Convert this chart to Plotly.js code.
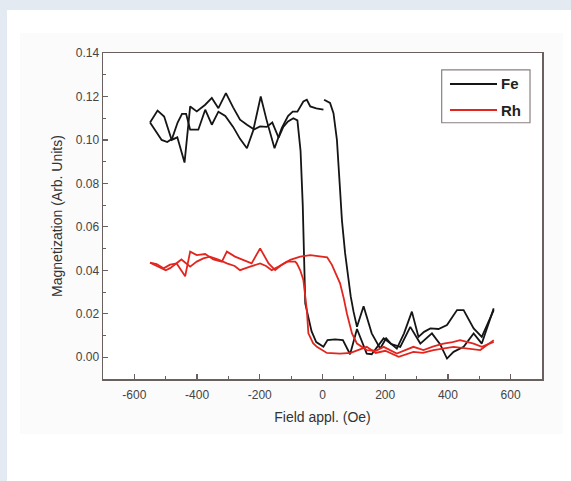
<!DOCTYPE html>
<html>
<head>
<meta charset="utf-8">
<script src="https://cdn.plot.ly/plotly-3.0.1.min.js"></script>
<style>
  html, body { margin: 0; padding: 0; width: 571px; height: 481px; overflow: hidden; background: #e4eaf2; }
  #panel { position: absolute; left: 7px; top: 10px; width: 564px; height: 471px; background: #ffffff; }
  #sheet { position: absolute; left: 20px; top: 33px; width: 543px; height: 401px; background: #fbfbfb; }
  #chart { position: absolute; left: 0; top: 0; width: 571px; height: 481px; }
</style>
</head>
<body>
<div id="panel"></div>
<div id="sheet"></div>
<div id="chart"></div>
<script>
// Fe, increasing-field branch (switches near +60 Oe); null marks the small break near 0 Oe
const feUpX = [-550,-526,-505,-481,-463,-440,-422,-401,-374,-353,-332,-308,-285,-263,-241,-220,-197,-178,-153,-130,-110,-95,-80,-61,-50,-39,-20,3,null,5,24,35,46,56,62,72,80,90,99,110,131,157,184,203,218,237,260,285,306,324,344,370,397,429,450,482,508,546];
const feUpY = [0.108,0.1135,0.1108,0.100,0.1012,0.0896,0.1154,0.1131,0.1162,0.1193,0.1146,0.1215,0.115,0.1093,0.107,0.105,0.120,0.109,0.0962,0.1054,0.111,0.113,0.113,0.1177,0.1185,0.1154,0.1145,0.1139,null,0.1185,0.117,0.1123,0.100,0.077,0.063,0.048,0.038,0.028,0.021,0.014,0.0235,0.011,0.004,0.0087,0.0063,0.004,0.011,0.021,0.0094,0.0117,0.0133,0.013,0.0148,0.0217,0.0217,0.0133,0.0094,0.0217];

// Fe, decreasing-field branch (switches near -60 Oe)
const feDownX = [-550,-513,-495,-480,-462,-448,-435,-422,-396,-374,-353,-332,-310,-285,-263,-241,-220,-199,-178,-160,-140,-125,-110,-93,-80,-70,-63,-58,-55,-49,-35,-20,3,16,40,65,88,110,141,157,195,220,248,280,312,349,375,397,418,450,482,508,546];
const feDownY = [0.108,0.100,0.099,0.1005,0.108,0.112,0.112,0.1047,0.1047,0.1139,0.107,0.113,0.111,0.106,0.1005,0.0962,0.1047,0.1062,0.106,0.108,0.101,0.106,0.1085,0.110,0.109,0.095,0.070,0.045,0.0248,0.0209,0.012,0.007,0.0048,0.0079,0.0082,0.0079,0.0014,0.013,0.0017,0.0014,0.0087,0.006,0.0048,0.014,0.0063,0.011,0.006,-0.0006,0.0025,0.0048,0.011,0.0063,0.0225];

// Rh, increasing-field branch (switches near +70 Oe)
const rhUpX = [-550,-529,-507,-486,-465,-438,-422,-401,-374,-348,-321,-305,-279,-252,-226,-199,-172,-151,-130,-103,-71,-39,-2,15,30,45,56,68,78,94,110,141,170,195,237,290,322,354,386,415,439,482,508,546];
const rhUpY = [0.0435,0.0429,0.0409,0.0426,0.0432,0.0373,0.0486,0.047,0.0475,0.045,0.044,0.0486,0.0463,0.0448,0.0432,0.0501,0.0432,0.0401,0.0425,0.0448,0.0463,0.047,0.0463,0.046,0.0425,0.038,0.034,0.027,0.020,0.011,0.0063,0.0033,0.003,0.0048,0.0017,0.0048,0.0033,0.005,0.0063,0.007,0.0079,0.0063,0.0048,0.0071];

// Rh, decreasing-field branch (switches near -55 Oe)
const rhDownX = [-550,-520,-500,-486,-465,-450,-422,-401,-380,-359,-332,-305,-280,-263,-231,-199,-180,-162,-140,-114,-87,-82,-71,-61,-50,-45,-30,-18,14,56,90,141,170,200,243,290,320,354,418,460,503,546];
const rhDownY = [0.0435,0.0415,0.040,0.041,0.0432,0.045,0.0417,0.044,0.0455,0.0463,0.045,0.0432,0.042,0.0401,0.0417,0.0432,0.042,0.0401,0.0417,0.044,0.044,0.0432,0.040,0.0356,0.0217,0.011,0.0065,0.0048,0.002,0.0017,0.002,0.0048,0.002,0.003,0.0002,0.0025,0.002,0.0033,0.0048,0.004,0.0033,0.0079];

const seriesNames = ['Fe', 'Rh'];
const xTickVals = [-600,-400,-200,0,200,400,600];
const yTickVals = [0.00,0.02,0.04,0.06,0.08,0.10,0.12,0.14];

const black = '#151515';
const red = '#e2261f';
const colors = [black, red];

const traces = [
  {x: feUpX, y: feUpY, mode: 'lines', name: seriesNames[0], line: {color: black, width: 1.8}},
  {x: feDownX, y: feDownY, mode: 'lines', name: seriesNames[0], line: {color: black, width: 1.8}},
  {x: rhUpX, y: rhUpY, mode: 'lines', name: seriesNames[1], line: {color: red, width: 1.8}},
  {x: rhDownX, y: rhDownY, mode: 'lines', name: seriesNames[1], line: {color: red, width: 1.8}}
];

const axisColor = '#6a6060';
const fam = 'Liberation Sans, Arial, sans-serif';
const tickFont = {family: fam, size: 12, color: '#444444'};
const titleFont = {family: fam, size: 14, color: '#333333'};

// legend drawn as a framed key (paper coordinates)
const legRows = [0.905, 0.825];
const shapes = [
  {type: 'rect', xref: 'paper', yref: 'paper', x0: 0.7715, x1: 0.9727, y0: 0.786, y1: 0.948,
   line: {color: '#8a8080', width: 1.2}, fillcolor: 'rgba(255,255,255,0)'}
];
const annotations = [];
seriesNames.forEach((n, i) => {
  shapes.push({type: 'line', xref: 'paper', yref: 'paper', x0: 0.7904, x1: 0.8975, y0: legRows[i], y1: legRows[i],
               line: {color: colors[i], width: 2}});
  annotations.push({xref: 'paper', yref: 'paper', x: 0.901, y: legRows[i], xanchor: 'left', yanchor: 'middle',
                    text: n, showarrow: false, font: {family: fam, size: 15, color: '#222222', weight: 'bold'}});
});

const layout = {
  width: 571, height: 481,
  margin: {l: 103, r: 29, t: 53, b: 102, pad: 0},
  paper_bgcolor: 'rgba(0,0,0,0)',
  plot_bgcolor: '#ffffff',
  showlegend: false,
  shapes: shapes,
  annotations: annotations,
  xaxis: {
    range: [-700, 700], tickvals: xTickVals, ticktext: xTickVals.map(String),
    ticks: 'inside', ticklen: 5, tickwidth: 1.2, tickcolor: axisColor, ticklabelstandoff: 4,
    minor: {dtick: 100, ticks: 'inside', ticklen: 3, tickcolor: axisColor, tickwidth: 1},
    showline: true, linecolor: axisColor, linewidth: 1.5, mirror: true,
    showgrid: false, zeroline: false, tickfont: tickFont,
    title: {text: 'Field appl. (Oe)', font: titleFont, standoff: 11},
    automargin: false
  },
  yaxis: {
    range: [-0.01, 0.14], tickvals: yTickVals, ticktext: yTickVals.map(v => v.toFixed(2)),
    ticks: 'inside', ticklen: 5, tickwidth: 1.2, tickcolor: axisColor,
    minor: {dtick: 0.01, ticks: 'inside', ticklen: 3, tickcolor: axisColor, tickwidth: 1},
    showline: true, linecolor: axisColor, linewidth: 1.5, mirror: true,
    showgrid: false, zeroline: false, tickfont: tickFont,
    title: {text: 'Magnetization (Arb. Units)', font: titleFont, standoff: 10},
    automargin: false
  }
};

Plotly.newPlot('chart', traces, layout, {staticPlot: true, displayModeBar: false});
</script>
</body>
</html>
